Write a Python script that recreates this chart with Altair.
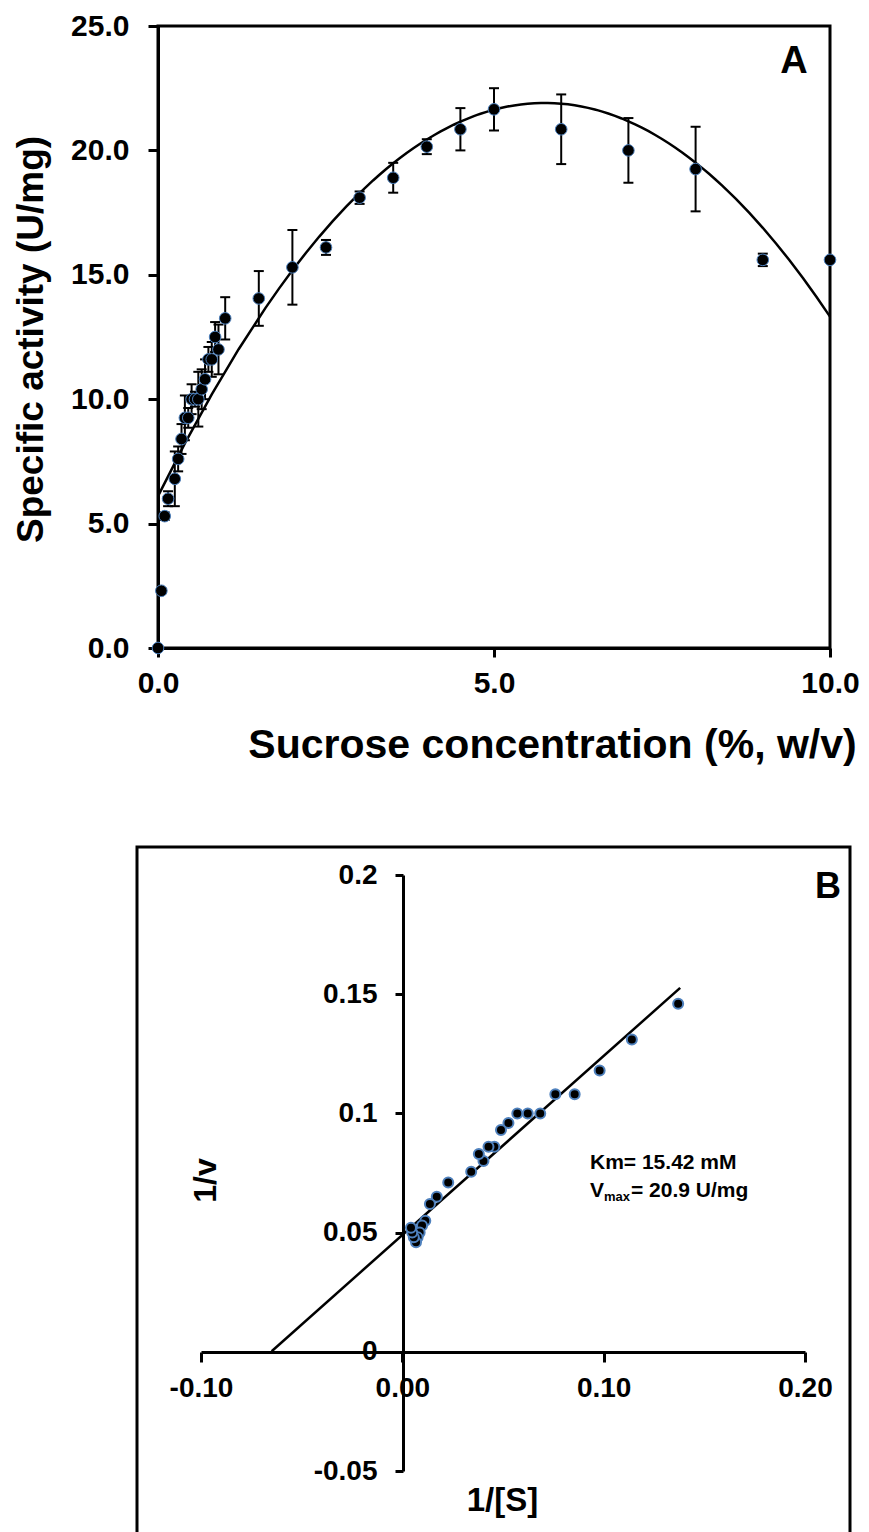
import altair as alt
import pandas as pd

# ---------------- Panel A data ----------------
conc = [0, 0.05, 0.1, 0.15, 0.25, 0.3, 0.35, 0.4, 0.45, 0.5, 0.55, 0.6, 0.65, 0.7,
        0.75, 0.8, 0.85, 0.9, 1.0, 1.5, 2.0, 2.5, 3.0, 3.5, 4.0, 4.5, 5.0, 6.0,
        7.0, 8.0, 9.0, 10.0]
activity = [0.0, 2.3, 5.3, 6.0, 6.8, 7.6, 8.4, 9.25, 9.25, 10.0, 10.0, 10.0, 10.4,
            10.8, 11.6, 11.6, 12.5, 12.0, 13.25, 14.05, 15.3, 16.1, 18.1, 18.9,
            20.15, 20.85, 21.65, 20.85, 20.0, 19.25, 15.6, 15.6]
sd = [0, 0.1, 0.15, 0.3, 1.1, 0.5, 0.6, 0.9, 0.4, 0.6, 0.3, 1.1, 0.8, 0.8, 0.5,
      0.7, 0.6, 1.0, 0.85, 1.1, 1.5, 0.3, 0.25, 0.6, 0.3, 0.85, 0.85, 1.4, 1.3,
      1.7, 0.25, 0.0]

# ---------------- Panel B data (Lineweaver-Burk) ----------------
inv_s = [0.137, 0.114, 0.098, 0.0856, 0.076, 0.0685, 0.0623, 0.0571, 0.0527,
         0.049, 0.0457, 0.0428, 0.0403, 0.038, 0.0342, 0.0228, 0.0171, 0.0137,
         0.0114, 0.0098, 0.0086, 0.0076, 0.0068, 0.0057, 0.0049, 0.0043]
inv_v = [0.146, 0.131, 0.118, 0.108, 0.108, 0.100, 0.100, 0.100, 0.096, 0.093,
         0.086, 0.086, 0.080, 0.083, 0.0755, 0.071, 0.065, 0.062, 0.055, 0.053,
         0.050, 0.048, 0.046, 0.048, 0.050, 0.052]

a_xticks = [0, 5, 10]
a_yticks = [0, 5, 10, 15, 20, 25]
b_xticks = [-0.1, 0.0, 0.1, 0.2]
b_yticks = [-0.05, 0, 0.05, 0.1, 0.15, 0.2]
b_fit_extent = [-0.0649, 0.138]

dfA = pd.DataFrame({"conc": conc, "activity": activity, "sd": sd})
dfB = pd.DataFrame({"inv_s": inv_s, "inv_v": inv_v})

FONT = "Liberation Sans"
W, H = 672, 622
ORIGIN_X, ORIGIN_Y = 158, 26

# ---------------- Panel A ----------------
xA_scale = alt.Scale(domain=[0, 10], nice=False, zero=False)
yA_scale = alt.Scale(domain=[0, 25], nice=False, zero=False)
xA_axis = alt.Axis(values=a_xticks, format=".1f", orient="bottom",
                   title="Sucrose concentration (%, w/v)", titleFontSize=41,
                   titleX=394, titleY=97, titleBaseline="middle", titleAlign="center",
                   labelFontSize=30, tickSize=9, labelPadding=11, labelFlush=False,
                   labelOverlap=False)
yA_axis = alt.Axis(values=a_yticks, format=".1f", orient="left",
                   title="Specific activity (U/mg)", titleFontSize=37,
                   titleX=-127, titleY=313, titleBaseline="middle", titleAlign="center",
                   titleAngle=270,
                   labelFontSize=30, tickSize=10, labelPadding=19, labelOverlap=False)

baseA = alt.Chart(dfA)
xA = alt.X("conc:Q", scale=xA_scale, axis=xA_axis)

errA = baseA.transform_filter("datum.sd > 0").transform_calculate(
    lo="datum.activity - datum.sd", hi="datum.activity + datum.sd"
).mark_rule(color="black", strokeWidth=2).encode(
    x=xA, y=alt.Y("lo:Q", scale=yA_scale, axis=yA_axis), y2="hi:Q")
capLo = baseA.transform_filter("datum.sd > 0").transform_calculate(
    lo="datum.activity - datum.sd"
).mark_tick(orient="horizontal", color="black", size=10, thickness=2, opacity=1).encode(
    x=xA, y=alt.Y("lo:Q", scale=yA_scale, axis=yA_axis))
capHi = baseA.transform_filter("datum.sd > 0").transform_calculate(
    hi="datum.activity + datum.sd"
).mark_tick(orient="horizontal", color="black", size=10, thickness=2, opacity=1).encode(
    x=xA, y=alt.Y("hi:Q", scale=yA_scale, axis=yA_axis))
curveA = baseA.transform_regression(
    "conc", "activity", method="poly", order=2, extent=[0, 10]
).mark_line(color="black", strokeWidth=2.5).encode(
    x=xA, y=alt.Y("activity:Q", scale=yA_scale, axis=yA_axis))
ptsA = baseA.mark_circle(size=135, fill="black", stroke="#4a7ebb", strokeWidth=1,
                         opacity=1).encode(
    x=xA, y=alt.Y("activity:Q", scale=yA_scale, axis=yA_axis))
labA = alt.Chart(pd.DataFrame({"t": ["A"]})).mark_text(
    font=FONT, fontWeight="bold", fontSize=38, color="black", align="center",
    baseline="middle").encode(text="t:N", x=alt.value(636), y=alt.value(36))

layerA = alt.layer(errA, capLo, capHi, curveA, ptsA, labA)

# ---------------- Panel B ----------------
xB_scale = alt.Scale(domain=[-0.1, 0.2], range=[201 - ORIGIN_X, 805 - ORIGIN_X],
                     nice=False, zero=False)
yB_scale = alt.Scale(domain=[-0.05, 0.2], range=[1471 - ORIGIN_Y, 875 - ORIGIN_Y],
                     nice=False, zero=False)
neg_fmt_x = "datum.value < 0 ? '-' + format(-datum.value, '.2f') : format(datum.value, '.2f')"
neg_fmt_y = "datum.value < 0 ? '-' + format(-datum.value, '~g') : format(datum.value, '~g')"
xB_axis = alt.Axis(values=b_xticks, orient="bottom", offset=(1352 - ORIGIN_Y) - H,
                   labelExpr=neg_fmt_x, title="1/[S]", titleFontSize=33,
                   titleX=502 - ORIGIN_X, titleY=148, titleBaseline="middle",
                   titleAlign="center", labelFontSize=28, tickSize=10,
                   labelPadding=12, labelFlush=False, labelOverlap=False)
yB_axis = alt.Axis(values=b_yticks, orient="left", offset=-(403 - ORIGIN_X),
                   labelExpr=neg_fmt_y, title="1/v", titleFontSize=32,
                   titleX=-(403 - 205), titleY=1180 - ORIGIN_Y, titleBaseline="middle",
                   titleAlign="center", titleAngle=270,
                   labelFontSize=28, tickSize=8, labelPadding=18, labelOverlap=False)

baseB = alt.Chart(dfB)
xB = alt.X("inv_s:Q", scale=xB_scale, axis=xB_axis)
yB = alt.Y("inv_v:Q", scale=yB_scale, axis=yB_axis)

frameB = alt.Chart(pd.DataFrame({"k": [0]})).mark_rect(
    fill=None, stroke="black", strokeWidth=3).encode(
    x=alt.value(137 - ORIGIN_X), x2=alt.value(850 - ORIGIN_X),
    y=alt.value(847 - ORIGIN_Y), y2=alt.value(1560 - ORIGIN_Y))
lineB = baseB.transform_regression(
    "inv_s", "inv_v", method="linear", extent=b_fit_extent
).mark_line(color="black", strokeWidth=2.5).encode(x=xB, y=yB)
ptsB = baseB.mark_circle(size=100, fill="black", stroke="#4f81bd", strokeWidth=2,
                         opacity=1).encode(x=xB, y=yB)

annot = pd.DataFrame({
    "t": ["B", "Km= 15.42 mM", "V", "max", " = 20.9 U/mg"],
    "px": [815, 590, 590, 604, 631],
    "py": [887, 1163, 1191, 1197, 1191],
    "fs": [36, 21, 21, 13, 21],
})
textB = alt.Chart(annot).mark_text(
    font=FONT, fontWeight="bold", color="black", align="left", baseline="middle"
).encode(
    text="t:N",
    x=alt.X("px:Q", scale=alt.Scale(domain=[ORIGIN_X, ORIGIN_X + 100], range=[0, 100]), axis=None),
    y=alt.Y("py:Q", scale=alt.Scale(domain=[ORIGIN_Y, ORIGIN_Y + 100], range=[0, 100]), axis=None),
    size=alt.Size("fs:Q", scale=None, legend=None),
)

layerB = alt.layer(frameB, lineB, ptsB)

chart = alt.layer(layerA, layerB, textB).resolve_scale(
    x="independent", y="independent", size="independent"
).properties(
    width=W, height=H,
    background="white",
    autosize=alt.AutoSizeParams(type="none"),
    padding={"left": ORIGIN_X, "top": ORIGIN_Y, "right": 869 - ORIGIN_X - W,
             "bottom": 1532 - ORIGIN_Y - H},
).configure_view(
    stroke="black", strokeWidth=3
).configure_axis(
    domainColor="black", tickColor="black", labelColor="black", titleColor="black",
    labelFont=FONT, titleFont=FONT, labelFontWeight="bold", titleFontWeight="bold",
    grid=False, domainWidth=3, tickWidth=3
)

chart.save("out.html", embed_options={"renderer": "svg", "actions": False})
